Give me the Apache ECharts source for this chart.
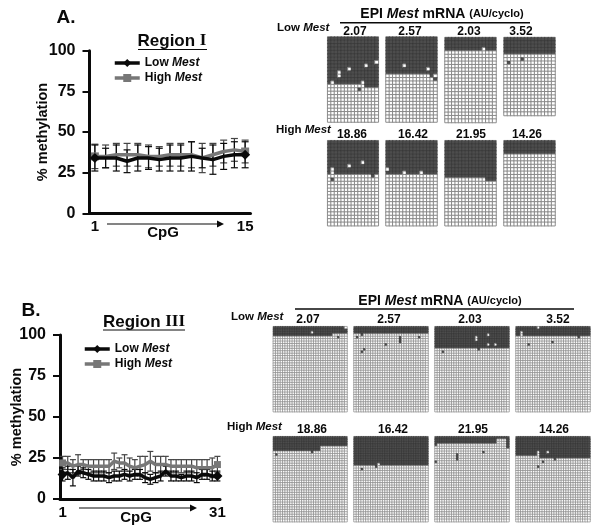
<!DOCTYPE html>
<html><head><meta charset="utf-8">
<style>html,body{margin:0;padding:0;background:#fff}#c{width:600px;height:532px}</style>
<script src="https://cdn.jsdelivr.net/npm/echarts@6/dist/echarts.min.js"></script></head>
<body><div id="c"></div>
<script>
// ---- Line charts: % methylation per CpG ----
const cpgI = ['1','2','3','4','5','6','7','8','9','10','11','12','13','14','15'];
const lowI  = [34,34,34,32,34,34,33,34,34,35,34,33,35,36,36];
const lowIErr  = [8,6,8,7,8,7,7,8,8,9,6,9,8,8,8];
const highI = [35,35,36,36,36,35,35,36,36,36,34,36,38,39,38];
const highIErr = [7.5,7,7,7,7,7,6,7,7,8,9,7,7,7,7];

const cpgIII = ['1','2','3','4','5','6','7','8','9','10','11','12','13','14','15','16','17','18','19','20','21','22','23','24','25','26','27','28','29','30','31'];
const lowIII  = [15,16,13,17,16,15,14,14,14,13,14,14,15,14,15,15,13,12,13,14,17,14,14,13,14,14,13,15,15,14,14];
const lowIIIErr  = [4,4,5,3,3,3,3,3,3,3,3,3,3,3,3,3,3,3,3,3,3,3,3,2,3,3,3,3,3,3,3];
const highIII = [22,22,20,21,21,20,20,20,20,20,23,22,22,20,19,20,21,23,21,21,21,20,20,20,20,20,19,19,19,19,21];
const highIIIErr = [4,4,4,6,3,4,4,4,4,4,5,3,5,5,5,6,5,6,5,5,5,4,4,4,4,4,5,5,5,6,5];

const mrnaLabels = ['2.07','2.57','2.03','3.52'];
const mrnaLabelsHigh = ['18.86','16.42','21.95','14.26'];

// ---- Bisulfite clone panels: methylated clones per CpG (column), then flipped cells [cpg, clone] ----
const a1Depth = [14,14,14,14,14,14,14,14,14,14,14,15,15,15,15];
const a1Flip  = [[14,7],[11,8],[6,9],[3,10],[3,11],[1,13],[10,13],[9,15]];
const a2Depth = [11,11,11,11,11,11,11,11,11,11,11,11,11,11,11];
const a2Flip  = [[5,8],[12,9],[13,11],[14,12]];
const a3Depth = [4,4,4,4,4,4,4,4,4,4,4,4,4,4,4];
const a3Flip  = [[11,3]];
const a4Depth = [5,5,5,5,5,5,5,5,5,5,5,5,5,5,5];
const a4Flip  = [[1,7],[5,6]];
const a5Depth = [10,10,10,10,10,10,10,10,10,10,10,10,10,10,10];
const a5Flip  = [[10,6],[6,7],[1,8],[1,9],[1,11],[13,10]];
const a6Depth = [10,10,10,10,10,10,10,10,10,10,10,10,10,10,10];
const a6Flip  = [[0,8],[5,9],[10,9]];
const a7Depth = [11,11,11,11,11,11,11,11,11,11,11,11,12,12,12];
const a7Flip  = [];
const a8Depth = [4,4,4,4,4,4,4,4,4,4,4,4,4,4,4];
const a8Flip  = [];

const b1Depth = [4,4,4,4,4,4,4,4,4,4,4,4,4,4,4,4,4,4,4,4,4,4,4,4,4,3,3,3,3,3,3];
const b1Flip  = [[16,2],[30,0],[27,4]];
const b2Depth = [3,3,3,3,3,3,3,3,3,3,3,3,3,3,3,3,3,3,3,3,3,3,3,3,3,3,3,3,3,3,3];
const b2Flip  = [[1,4],[3,3],[4,9],[3,10],[13,7],[19,4],[19,5],[19,6],[27,4]];
const b3Depth = [9,9,9,9,9,9,9,9,9,9,9,9,9,9,9,9,9,9,9,9,9,9,9,9,9,9,9,9,9,9,9];
const b3Flip  = [[17,4],[17,5],[22,3],[22,7],[25,7],[3,10],[18,9]];
const b4Depth = [4,4,4,4,4,4,4,4,4,4,4,4,4,4,4,4,4,4,4,4,4,4,4,4,4,4,4,4,4,4,4];
const b4Flip  = [[2,2],[2,3],[9,0],[5,7],[15,6],[26,4]];
const b5Depth = [6,6,6,6,6,6,6,6,6,6,6,6,6,6,6,6,6,6,6,6,4,4,4,4,4,4,4,4,4,4,4];
const b5Flip  = [[1,7],[16,6]];
const b6Depth = [12,12,12,12,12,12,12,12,12,12,12,12,12,12,12,12,12,12,12,12,12,12,12,12,12,12,12,12,12,12,12];
const b6Flip  = [[10,11],[3,13],[9,12]];
const b7Depth = [4,3,3,3,3,3,3,3,3,3,3,3,3,3,3,3,3,3,3,3,3,3,3,3,3,3,1,1,1,1,5];
const b7Flip  = [[0,10],[9,7],[9,8],[9,9],[20,6]];
const b8Depth = [8,8,8,8,8,8,8,8,8,8,9,9,9,9,9,9,9,9,9,9,9,9,9,9,9,9,9,9,9,9,9];
const b8Flip  = [[9,6],[13,6],[9,7],[16,9],[11,10],[9,12]];

const FONT = '"Liberation Sans", Arial, sans-serif';
const BLACK = '#0a0a0a', GREY = '#777777';
const CLONE_DARK = '#4d4d4d', CLONE_DARK_LINE = '#363636', CLONE_LINE = '#808080';

const panels = [
  // depth, flips, clones, left, top, width, height
  [a1Depth,a1Flip,25,327.7,37,50.6,85],[a2Depth,a2Flip,25,386,37,51,85],[a3Depth,a3Flip,25,445,37.5,51,85],[a4Depth,a4Flip,23,504,37.5,51,78],
  [a5Depth,a5Flip,25,327.7,140.7,50.6,85],[a6Depth,a6Flip,25,386,140.7,51,85],[a7Depth,a7Flip,25,445,140.7,51,85],[a8Depth,a8Flip,25,504,140.7,51,85],
  [b1Depth,b1Flip,35,273.3,326.7,73.7,85],[b2Depth,b2Flip,35,354,326.7,74,85],[b3Depth,b3Flip,35,435,326.7,74,85],[b4Depth,b4Flip,35,516,326.7,74,85],
  [b5Depth,b5Flip,35,273.3,436.7,73.7,85],[b6Depth,b6Flip,35,354,436.7,74,85],[b7Depth,b7Flip,35,435,436.7,74,85],[b8Depth,b8Flip,35,516,436.7,74,85]
];

const grid = [
  {left:89.5,top:50.7,width:161,height:162.6},
  {left:60,top:335,width:160,height:164}
];
const xAxis = [], yAxis = [], series = [];

function lineAxes(cats, labelInterval){
  xAxis.push({type:'category',gridIndex:xAxis.length,data:cats,boundaryGap:true,
    axisLine:{lineStyle:{color:BLACK,width:3}},axisTick:{show:false},
    axisLabel:{interval:labelInterval,color:BLACK,fontFamily:FONT,fontWeight:'bold',fontSize:15,margin:6}});
  yAxis.push({type:'value',gridIndex:yAxis.length,min:0,max:100,interval:25,
    name:'% methylation',nameLocation:'middle',nameMoveOverlap:false,
    nameGap:yAxis.length===0?39:35.5,
    nameTextStyle:{color:BLACK,fontFamily:FONT,fontWeight:'bold',fontSize:14.5},
    axisLine:{show:true,lineStyle:{color:BLACK,width:3}},
    axisTick:{show:true,length:7,lineStyle:{color:BLACK,width:2}},
    splitLine:{show:false},
    axisLabel:{color:BLACK,fontFamily:FONT,fontWeight:'bold',fontSize:16,margin:14}});
}
function errSeries(vals,errs,idx,color){
  series.push({type:'custom',xAxisIndex:idx,yAxisIndex:idx,silent:true,z:2,clip:false,
    data:vals.map((v,i)=>[i,v,errs[i]]),
    renderItem(p,api){
      const i=api.value(0),v=api.value(1),e=api.value(2);
      const t=api.coord([i,v+e]),b=api.coord([i,v-e]);
      const cap=idx===0?3.5:3;
      const st={stroke:color,lineWidth:1.2};
      return {type:'group',children:[
        {type:'line',shape:{x1:t[0],y1:t[1],x2:b[0],y2:b[1]},style:st},
        {type:'line',shape:{x1:t[0]-cap,y1:t[1],x2:t[0]+cap,y2:t[1]},style:st},
        {type:'line',shape:{x1:b[0]-cap,y1:b[1],x2:b[0]+cap,y2:b[1]},style:st}
      ]};
    }});
}
function lineSeries(name,vals,idx,color,symbol,size,z){
  series.push({type:'line',name,data:vals,xAxisIndex:idx,yAxisIndex:idx,z,
    symbol,symbolSize:size,showSymbol:true,
    lineStyle:{color,width:3.5},itemStyle:{color,borderWidth:0}});
}
lineAxes(cpgI,13);
lineAxes(cpgIII,29);
errSeries(highI,highIErr,0,'#444444');
errSeries(lowI,lowIErr,0,BLACK);
lineSeries('High Mest',highI,0,GREY,'rect',8,3);
lineSeries('Low Mest',lowI,0,BLACK,'diamond',10,4);
errSeries(highIII,highIIIErr,1,'#444444');
errSeries(lowIII,lowIIIErr,1,BLACK);
lineSeries('High Mest',highIII,1,GREY,'rect',7,3);
lineSeries('Low Mest',lowIII,1,BLACK,'diamond',10,4);

panels.forEach((p,n)=>{
  const [depth,flip,clones,l,t,w,h]=p, gi=grid.length;
  grid.push({left:l,top:t,width:w,height:h});
  xAxis.push({type:'category',gridIndex:gi,data:depth.map((_,i)=>i),show:false});
  yAxis.push({type:'category',gridIndex:gi,inverse:true,show:false,data:Array.from({length:clones},(_,i)=>i)});
  const flipped=new Set(flip.map(f=>f[0]+','+f[1]));
  const data=[];
  depth.forEach((d,c)=>{
    for(let r=0;r<clones;r++){
      const m=(r<d)!==flipped.has(c+','+r);
      data.push({value:[c,r,m?1:0],itemStyle:m
        ?{color:CLONE_DARK,borderColor:CLONE_DARK_LINE,borderWidth:0.5}
        :{color:'#ffffff',borderColor:CLONE_LINE,borderWidth:n<8?0.9:0.65}});
    }
  });
  series.push({type:'heatmap',xAxisIndex:gi,yAxisIndex:gi,data,silent:true,progressive:0,
    emphasis:{disabled:true},label:{show:false}});
});

const italicRich=(sz)=>({
  a:{fontFamily:FONT,fontWeight:'bold',fontSize:sz,color:BLACK},
  i:{fontFamily:FONT,fontWeight:'bold',fontStyle:'italic',fontSize:sz,color:BLACK},
  s:{fontFamily:FONT,fontWeight:'bold',fontSize:sz-3,color:BLACK},
  r:{fontFamily:'"Liberation Serif",serif',fontWeight:'bold',fontSize:sz,color:BLACK}
});
function txt(text,x,y,size,align){
  return {type:'text',x,y,silent:true,style:{text,align:align||'center',verticalAlign:'middle',
    fontFamily:FONT,fontWeight:'bold',fontSize:size,fill:BLACK,rich:italicRich(size)}};
}
function rule(x1,y1,x2,y2,w){
  return {type:'line',silent:true,shape:{x1,y1,x2,y2},style:{stroke:BLACK,lineWidth:w}};
}
function arrow(x1,x2,y){
  return {type:'group',silent:true,children:[
    rule(x1,y,x2-6,y,1.2),
    {type:'polygon',shape:{points:[[x2-7,y-3.5],[x2,y],[x2-7,y+3.5]]},style:{fill:BLACK}}
  ]};
}
const graphicEls=[
  txt('A.',66,18,19), txt('B.',31,311,19),
  txt('{a|Region }{r|I}',172,41,17), rule(138,49.5,207,49.5,1.2),
  txt('{a|Region }{r|III}',144,322,17), rule(103,330,185,330,1.2),
  txt('CpG',163,233,15), arrow(107,224,224),
  txt('CpG',136,518,15), arrow(79,197,508),
  txt('{a|EPI }{i|Mest}{a| mRNA }{s|(AU/cyclo)}',442,14,14), rule(340,22.7,530,22.7,1.5),
  txt('{a|EPI }{i|Mest}{a| mRNA }{s|(AU/cyclo)}',440,301,14), rule(295,309,574,309,1.5),
  txt('{a|Low }{i|Mest}',277,28,11.5,'left'), txt('{a|High }{i|Mest}',276,130,11.5,'left'),
  txt('{a|Low }{i|Mest}',231,317,11.5,'left'), txt('{a|High }{i|Mest}',227,427,11.5,'left')
];
[[355,410,469,521,32,mrnaLabels],[352,413,471,527,135,mrnaLabelsHigh],
 [308,389,470,558,320,mrnaLabels],[312,393,473,554,430,mrnaLabelsHigh]].forEach(row=>{
  row[5].forEach((s,i)=>graphicEls.push(txt(s,row[i],row[4],12)));
});

const legendFmt=n=>{const p=n.split(' ');return '{a|'+p[0]+' }{i|'+p[1]+'}';};
function legend(left,top){
  return {left,top,padding:0,orient:'vertical',itemWidth:25,itemHeight:10,itemGap:3,selectedMode:false,
    data:['Low Mest','High Mest'],formatter:legendFmt,lineStyle:{width:3.5},
    textStyle:{rich:italicRich(12),fontFamily:FONT,fontWeight:'bold',fontSize:12,color:BLACK}};
}

const chart=echarts.init(document.getElementById('c'),null,{renderer:'canvas'});
chart.setOption({animation:false,backgroundColor:'#ffffff',tooltip:{show:false},
  grid,xAxis,yAxis,series,legend:[legend(113,57),legend(83,343)],graphic:{elements:graphicEls}});
</script></body></html>
